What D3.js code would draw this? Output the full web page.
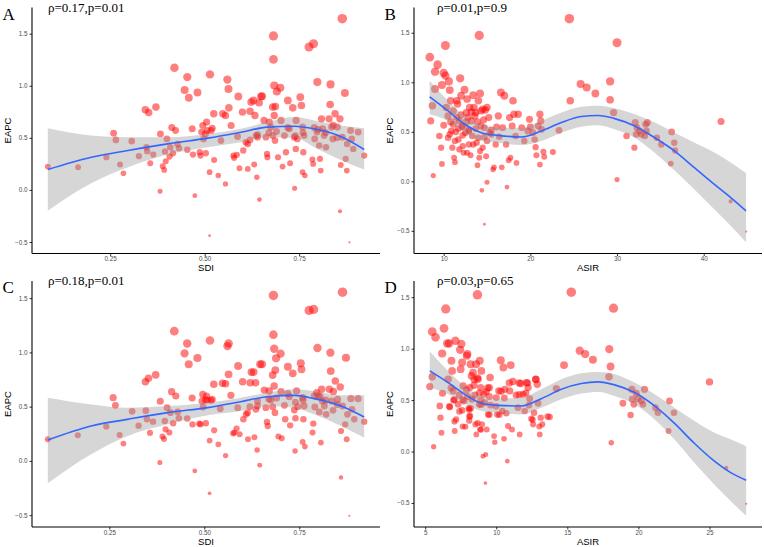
<!DOCTYPE html>
<html>
<head>
<meta charset="utf-8">
<script src="https://cdn.jsdelivr.net/npm/d3@7"></script>
<style>
  body { margin: 0; background: #fff; }
  svg { display: block; }
</style>
</head>
<body>
<div id="chart"></div>
<script>
// panel A: SDI vs EAPC
var pointsA = [[0.085,0.224],[0.165,0.218],[0.24,0.314],[0.259,0.545],[0.265,0.48],[0.276,0.244],[0.285,0.16],[0.307,0.468],[0.326,0.324],[0.343,0.77],[0.352,0.744],[0.346,0.41],[0.348,0.372],[0.356,0.256],[0.364,0.34],[0.371,0.795],[0.383,0.538],[0.382,-0.013],[0.389,0.228],[0.393,0.192],[0.395,0.369],[0.397,0.276],[0.40,0.49],[0.407,0.32],[0.409,0.41],[0.413,0.60],[0.416,0.352],[0.42,1.173],[0.423,0.57],[0.428,0.44],[0.432,0.40],[0.447,0.96],[0.454,1.083],[0.458,0.885],[0.454,0.385],[0.467,0.587],[0.469,0.34],[0.474,-0.055],[0.481,0.936],[0.487,0.362],[0.489,0.33],[0.492,0.555],[0.495,0.619],[0.497,0.49],[0.502,0.538],[0.505,0.65],[0.503,0.352],[0.507,0.57],[0.513,-0.439],[0.514,1.109],[0.513,0.17],[0.517,0.57],[0.52,0.593],[0.524,0.731],[0.525,0.288],[0.536,0.138],[0.543,0.474],[0.548,0.731],[0.555,0.058],[0.555,0.715],[0.56,1.06],[0.563,0.968],[0.564,0.788],[0.57,0.619],[0.576,0.33],[0.578,0.308],[0.589,0.897],[0.587,0.513],[0.585,0.337],[0.592,0.208],[0.6,0.747],[0.602,0.378],[0.609,0.458],[0.614,0.442],[0.614,0.202],[0.62,0.756],[0.623,0.843],[0.629,0.859],[0.631,0.244],[0.633,0.715],[0.636,0.522],[0.638,0.122],[0.64,0.506],[0.644,0.837],[0.645,-0.093],[0.649,0.897],[0.652,0.9],[0.657,0.667],[0.662,0.506],[0.665,0.346],[0.666,0.314],[0.671,0.651],[0.675,0.603],[0.68,0.522],[0.682,1.478],[0.682,1.253],[0.684,1.003],[0.684,0.715],[0.68,0.795],[0.687,0.80],[0.686,0.474],[0.691,0.946],[0.694,0.314],[0.7,0.981],[0.702,0.667],[0.706,0.224],[0.711,0.522],[0.715,0.362],[0.72,0.859],[0.724,0.587],[0.726,0.256],[0.733,0.788],[0.737,0.506],[0.738,0.016],[0.741,0.394],[0.742,0.667],[0.745,0.49],[0.753,0.891],[0.756,0.811],[0.759,0.603],[0.761,0.362],[0.759,0.17],[0.765,0.138],[0.763,0.522],[0.776,1.372],[0.788,1.404],[0.785,0.292],[0.787,0.25],[0.791,0.49],[0.797,0.555],[0.798,1.035],[0.803,0.426],[0.805,0.298],[0.807,0.186],[0.809,0.683],[0.812,0.587],[0.816,0.522],[0.821,0.41],[0.829,0.683],[0.832,0.82],[0.833,1.013],[0.836,0.603],[0.839,0.49],[0.845,0.731],[0.851,0.603],[0.858,0.683],[0.858,-0.205],[0.86,0.24],[0.864,1.644],[0.864,0.506],[0.871,0.93],[0.873,0.298],[0.876,0.186],[0.877,0.442],[0.883,-0.503],[0.886,0.57],[0.889,0.49],[0.893,0.394],[0.906,0.555],[0.922,0.33],
  [0.64,0.53],[0.67,0.55],[0.72,0.6],[0.74,0.52],[0.79,0.6],[0.82,0.55],[0.85,0.5],[0.84,0.62],[0.80,0.58],[0.69,0.56],[0.62,0.48],[0.76,0.55]];
var fitXA = [0.085,0.2,0.297,0.402,0.508,0.596,0.666,0.737,0.79,0.86,0.922];
var fitA  = [0.196,0.314,0.378,0.442,0.497,0.554,0.603,0.612,0.587,0.513,0.388];
var hiA   = [0.593,0.522,0.506,0.506,0.538,0.587,0.651,0.699,0.667,0.619,0.593];
var loA   = [-0.199,0.064,0.218,0.34,0.41,0.458,0.506,0.5,0.41,0.288,0.196];

// panel B: ASIR vs EAPC
var pointsB = [[8.4,1.253],[8.5,0.61],[8.7,0.762],[8.8,0.058],[9.0,1.107],[9.3,1.178],[9.0,0.931],[9.5,0.457],[9.7,0.339],[9.8,0.176],[9.8,0.972],[10.0,0.566],[10.2,1.371],[10.0,1.094],[10.2,1.067],[10.3,0.745],[10.5,0.66],[10.6,1.009],[10.7,0.921],[10.8,0.813],[10.7,0.474],[11.0,0.339],[11.1,0.576],[11.3,0.406],[11.3,0.193],[11.5,0.643],[11.7,0.532],[11.8,0.322],[11.9,1.04],[12.0,0.864],[12.0,0.67],[12.2,0.464],[12.3,0.288],[12.4,0.924],[12.5,0.491],[12.7,0.83],[12.8,0.643],[12.9,0.372],[13.0,0.745],[13.1,0.264],[13.3,0.457],[13.4,0.87],[13.5,0.745],[13.6,0.66],[13.7,0.532],[13.8,0.389],[13.9,0.163],[14.0,0.813],[14.1,0.237],[14.1,1.473],[14.2,0.887],[14.3,0.711],[14.3,0.559],[14.4,-0.091],[14.5,0.339],[14.7,-0.433],[14.7,0.447],[14.9,0.254],[15.0,-0.01],[15.0,0.745],[15.2,0.643],[15.3,0.491],[15.7,0.119],[15.8,0.142],[16.0,0.372],[16.1,0.549],[16.3,0.66],[16.6,0.897],[16.7,0.142],[16.8,0.542],[17.0,0.864],[17.2,0.372],[17.3,-0.058],[17.5,0.213],[17.6,0.643],[17.7,0.237],[17.9,0.559],[18.0,0.813],[18.1,0.677],[18.3,0.457],[18.4,0.186],[18.6,0.677],[19.0,0.542],[19.3,0.406],[19.7,0.508],[19.9,0.626],[20.0,0.549],[20.3,0.491],[20.5,0.423],[20.6,0.345],[20.7,0.264],[20.9,0.559],[21.1,0.677],[21.1,0.169],[21.2,0.61],[21.3,0.525],[21.5,0.298],[21.6,0.247],[22.6,0.295],[23.3,0.515],[24.5,1.642],[24.6,0.813],[25.8,0.982],[26.5,0.948],[27.5,0.887],[29.2,1.009],[29.2,0.823],[29.6,0.694],[30.0,0.017],[30.0,1.399],[31.1,0.457],[32.0,0.339],[32.1,0.593],[32.2,0.474],[32.3,0.542],[32.6,0.508],[32.8,0.474],[33.2,0.457],[33.3,0.576],[33.4,0.508],[33.5,0.593],[34.6,0.44],[35.1,0.372],[36.2,0.179],[36.3,0.498],[36.6,0.389],[36.7,0.312],[42.0,0.603],[43.1,-0.203],[44.9,-0.508],
  [10.8,0.6],[11.4,0.5],[12.1,0.55],[12.6,0.6],[13.2,0.7],[13.9,0.6],[14.6,0.62],[15.5,0.52],[11.6,0.78],[12.9,0.52],[14.8,0.72],[16.4,0.45],
  [11.1,0.711],[11.5,0.813],[11.8,0.61],[12.2,0.559],[12.6,0.694],[12.9,0.508],[13.2,0.61],[13.4,0.372],[13.7,0.694],[14.0,0.44],[14.2,0.305],[14.5,0.728],[14.7,0.542],[15.0,0.406],[15.5,0.474],[11.7,0.423],[12.2,0.356],[12.7,0.288],[10.9,0.508],[10.5,0.44],[11.2,0.237]];
var fitXB = [8.38,10.5,12.42,14.35,16.27,18.96,21.27,23.58,25.88,27.81,29.73,32.04,34.35,36.65,38.96,41.27,43.19,44.88];
var fitB  = [0.853,0.711,0.576,0.491,0.464,0.447,0.508,0.593,0.654,0.664,0.633,0.559,0.44,0.305,0.135,-0.034,-0.169,-0.298];
var hiB   = [1.016,0.813,0.66,0.576,0.542,0.542,0.61,0.694,0.752,0.762,0.738,0.677,0.593,0.491,0.389,0.288,0.186,0.085];
var loB   = [0.677,0.61,0.491,0.406,0.389,0.366,0.406,0.491,0.552,0.566,0.525,0.44,0.288,0.108,-0.085,-0.288,-0.457,-0.616];

// panel C: SDI vs EAPC
var pointsC = [[0.088,0.2],[0.167,0.236],[0.242,0.316],[0.26,0.583],[0.266,0.512],[0.277,0.239],[0.287,0.16],[0.31,0.457],[0.327,0.325],[0.345,0.73],[0.353,0.761],[0.346,0.463],[0.349,0.383],[0.357,0.258],[0.365,0.362],[0.372,0.794],[0.384,0.549],[0.383,-0.015],[0.39,0.224],[0.394,0.202],[0.396,0.368],[0.398,0.291],[0.402,0.49],[0.408,0.261],[0.411,0.445],[0.414,0.638],[0.418,0.347],[0.421,1.196],[0.425,0.598],[0.43,0.451],[0.433,0.393],[0.448,0.991],[0.455,1.083],[0.459,0.89],[0.455,0.39],[0.468,0.58],[0.469,0.337],[0.475,-0.092],[0.482,0.948],[0.487,0.344],[0.49,0.337],[0.494,0.552],[0.496,0.613],[0.497,0.497],[0.503,0.561],[0.506,0.598],[0.504,0.347],[0.508,0.561],[0.514,-0.298],[0.515,1.11],[0.514,0.187],[0.518,0.558],[0.521,0.567],[0.525,0.706],[0.526,0.282],[0.537,0.153],[0.542,0.481],[0.548,0.715],[0.556,0.049],[0.556,0.712],[0.561,1.058],[0.564,1.083],[0.564,0.798],[0.57,0.604],[0.576,0.252],[0.579,0.261],[0.589,0.874],[0.588,0.491],[0.585,0.298],[0.593,0.245],[0.601,0.73],[0.603,0.383],[0.61,0.429],[0.614,0.445],[0.615,0.2],[0.621,0.721],[0.624,0.819],[0.63,0.819],[0.632,0.218],[0.635,0.721],[0.636,0.475],[0.639,0.101],[0.64,0.506],[0.647,0.89],[0.646,-0.04],[0.652,0.89],[0.658,0.653],[0.662,0.491],[0.665,0.359],[0.667,0.322],[0.671,0.644],[0.675,0.561],[0.68,0.5],[0.682,1.525],[0.682,1.163],[0.684,1.034],[0.684,0.69],[0.68,0.791],[0.687,0.837],[0.686,0.445],[0.689,0.945],[0.695,0.224],[0.701,0.988],[0.702,0.638],[0.704,0.209],[0.711,0.512],[0.713,0.383],[0.72,0.868],[0.724,0.592],[0.726,0.328],[0.733,0.807],[0.737,0.469],[0.739,0.092],[0.74,0.393],[0.743,0.644],[0.746,0.5],[0.754,0.899],[0.756,0.844],[0.759,0.583],[0.761,0.383],[0.759,0.175],[0.765,0.132],[0.763,0.506],[0.776,1.387],[0.788,1.396],[0.785,0.261],[0.787,0.344],[0.791,0.497],[0.796,0.629],[0.798,1.04],[0.803,0.451],[0.805,0.592],[0.807,0.169],[0.809,0.66],[0.811,0.552],[0.816,0.506],[0.821,0.429],[0.829,0.66],[0.833,0.828],[0.832,0.997],[0.836,0.552],[0.839,0.466],[0.845,0.736],[0.851,0.567],[0.858,0.681],[0.86,-0.153],[0.86,0.276],[0.864,1.555],[0.864,0.506],[0.873,0.951],[0.871,0.337],[0.875,0.2],[0.877,0.429],[0.882,-0.506],[0.886,0.574],[0.889,0.475],[0.895,0.383],[0.905,0.574],[0.921,0.362],
  [0.64,0.55],[0.67,0.57],[0.72,0.62],[0.74,0.54],[0.79,0.6],[0.82,0.56],[0.85,0.52],[0.84,0.64],[0.80,0.6],[0.69,0.58],[0.62,0.5],[0.76,0.56]];
var fitXC = [0.088,0.202,0.298,0.404,0.509,0.596,0.667,0.737,0.789,0.86,0.921];
var fitC  = [0.193,0.322,0.383,0.445,0.491,0.546,0.592,0.604,0.574,0.506,0.405];
var hiC   = [0.583,0.521,0.491,0.506,0.537,0.583,0.629,0.66,0.644,0.604,0.604];
var loC   = [-0.206,0.061,0.23,0.337,0.42,0.46,0.506,0.491,0.429,0.322,0.215];

// panel D: ASIR vs EAPC
var pointsD = [[5.33,0.631],[5.5,0.726],[5.5,1.165],[5.6,0.046],[5.73,1.11],[6.03,0.443],[6.08,0.329],[6.15,0.182],[6.2,0.953],[6.22,0.566],[6.33,1.198],[6.45,1.386],[6.55,1.051],[6.62,0.703],[6.69,1.051],[6.73,0.433],[6.85,0.882],[6.9,0.784],[6.97,0.589],[7.08,0.199],[7.13,1.077],[7.18,0.312],[7.32,0.459],[7.46,0.989],[7.5,0.8],[7.55,1.045],[7.6,0.866],[7.67,0.638],[7.74,0.491],[7.83,0.241],[7.93,0.931],[7.97,0.947],[8.07,0.42],[8.14,0.622],[8.16,0.345],[8.2,0.849],[8.26,0.735],[8.3,0.508],[8.37,0.768],[8.44,0.644],[8.54,0.264],[8.58,0.849],[8.6,0.166],[8.68,1.523],[8.72,0.703],[8.8,0.459],[8.84,0.882],[8.86,0.215],[8.91,0.622],[8.96,0.784],[9.0,0.264],[9.07,-0.046],[9.12,0.556],[9.19,0.475],[9.24,-0.306],[9.26,-0.029],[9.33,0.215],[9.43,0.361],[9.52,0.622],[9.57,0.719],[9.85,0.15],[9.9,0.091],[10.0,0.524],[10.08,0.361],[10.18,0.589],[10.32,0.888],[10.43,0.394],[10.5,0.817],[10.55,0.124],[10.6,0.605],[10.71,0.371],[10.78,-0.094],[10.83,0.247],[10.95,0.589],[11.02,0.84],[11.11,0.215],[11.18,0.68],[11.53,0.426],[11.65,0.166],[11.72,0.661],[11.89,0.556],[12.0,0.394],[12.12,0.67],[12.24,0.622],[12.35,0.514],[12.47,0.319],[12.59,0.264],[12.66,0.377],[12.78,0.703],[12.89,0.654],[12.94,0.469],[13.06,0.166],[13.13,0.329],[13.24,0.264],[13.76,0.335],[14.23,0.612],[14.77,0.84],[15.28,1.549],[15.87,0.98],[16.26,0.947],[16.8,0.892],[17.93,0.726],[17.95,0.996],[18.04,0.827],[18.09,0.085],[18.25,1.393],[18.91,0.469],[19.45,0.355],[19.54,0.605],[19.57,0.508],[19.68,0.459],[19.85,0.566],[19.96,0.514],[20.2,0.491],[20.32,0.459],[20.43,0.605],[21.2,0.426],[21.37,0.377],[22.12,0.199],[22.19,0.491],[22.5,0.377],[25.0,0.677],[26.17,-0.159],[27.58,-0.508],
  [7.0,0.5],[7.4,0.55],[7.9,0.6],[8.1,0.3],[8.5,0.55],[8.9,0.5],[9.3,0.58],[7.6,0.4],[8.2,0.42],[9.6,0.45],[11.4,0.55],[12.3,0.45],
  [8.11,0.406],[8.11,0.34],[7.99,0.536],[8.46,0.70],[8.69,0.715],[8.81,0.569],[9.4,0.618],[9.52,0.536],[10.34,0.585],[10.92,0.667],[11.62,0.667],[12.09,0.569],[12.79,0.699],[12.2,0.667],[7.64,0.504],[7.06,0.504],[6.83,0.618],[6.71,0.439],[7.41,0.39],[8.93,0.455],[9.99,0.439],[10.57,0.52],[8.93,0.212],[8.69,0.277],[7.64,0.244],[7.06,0.293],[9.52,0.358],[10.22,0.358],[12.56,0.309],[13.03,0.244],[13.61,0.341],[11.62,0.553]];
var fitXD = [5.33,6.62,7.79,8.96,10.13,11.77,13.17,14.58,15.98,17.15,18.33,19.73,21.14,22.54,23.95,25.35,26.52,27.58];
var fitD  = [0.784,0.67,0.556,0.469,0.449,0.443,0.514,0.605,0.661,0.677,0.648,0.573,0.443,0.273,0.078,-0.094,-0.208,-0.28];
var hiD   = [0.973,0.784,0.638,0.54,0.514,0.524,0.605,0.703,0.761,0.774,0.752,0.67,0.556,0.426,0.296,0.182,0.117,0.052];
var loD   = [0.622,0.556,0.469,0.394,0.377,0.361,0.426,0.508,0.563,0.579,0.54,0.459,0.312,0.117,-0.111,-0.322,-0.485,-0.625];

var panelLetters = ["A", "B", "C", "D"];
var statLabels = ["\u03c1=0.17,p=0.01", "\u03c1=0.01,p=0.9", "\u03c1=0.18,p=0.01", "\u03c1=0.03,p=0.65"];
var xTitles = ["SDI", "ASIR", "SDI", "ASIR"];
var xTickSets = [[0.25, 0.5, 0.75], [10, 20, 30, 40], [0.25, 0.5, 0.75], [5, 10, 15, 20, 25]];
var yTicks = [-0.5, 0, 0.5, 1, 1.5];

var W = 764, H = 547;
var svg = d3.select("#chart").append("svg")
  .attr("width", W)
  .attr("height", H);

var panels = [
  {pts: pointsA, fx: fitXA, fit: fitA, hi: hiA, lo: loA, ox: 0,   oy: 0,     fmt: d3.format(".2f")},
  {pts: pointsB, fx: fitXB, fit: fitB, hi: hiB, lo: loB, ox: 382, oy: 0,     fmt: d3.format("d")},
  {pts: pointsC, fx: fitXC, fit: fitC, hi: hiC, lo: loC, ox: 0,   oy: 273.5, fmt: d3.format(".2f")},
  {pts: pointsD, fx: fitXD, fit: fitD, hi: hiD, lo: loD, ox: 382, oy: 273.5, fmt: d3.format("d")}
];

// ggplot-ish 5% expansion
function expand(ext) {
  var pad = (ext[1] - ext[0]) * 0.05;
  return [ext[0] - pad, ext[1] + pad];
}

panels.forEach(function (p, i) {
  var left = p.ox + 32, right = p.ox + 380, top = p.oy + 7.5, bottom = p.oy + 253.5;

  var xs = p.pts.map(function (d) { return d[0]; });
  var ys = p.pts.map(function (d) { return d[1]; }).concat(p.lo, p.hi);

  var x = d3.scaleLinear().domain(expand(d3.extent(xs))).range([left, right]);
  var y = d3.scaleLinear().domain(expand(d3.extent(ys))).range([bottom, top]);

  var eExt = d3.extent(p.pts, function (d) { return d[1]; });
  // point area grows linearly with EAPC
  var area = d3.scaleLinear().domain(eExt).range([1.3, 23]);

  var g = svg.append("g");

  // points
  g.append("g").selectAll("circle")
    .data(p.pts)
    .enter().append("circle")
    .attr("cx", function (d) { return x(d[0]); })
    .attr("cy", function (d) { return y(d[1]); })
    .attr("r", function (d) { return Math.sqrt(area(d[1])); })
    .attr("fill", "#ff0000")
    .attr("fill-opacity", 0.5);

  // confidence band
  var band = d3.area()
    .x(function (d, k) { return x(p.fx[k]); })
    .y0(function (d, k) { return y(p.lo[k]); })
    .y1(function (d, k) { return y(p.hi[k]); })
    .curve(d3.curveMonotoneX);
  g.append("path")
    .datum(p.fx)
    .attr("d", band)
    .attr("fill", "#999999")
    .attr("fill-opacity", 0.4);

  var line = d3.line()
    .x(function (d, k) { return x(p.fx[k]); })
    .y(function (d, k) { return y(p.fit[k]); })
    .curve(d3.curveMonotoneX);
  g.append("path")
    .datum(p.fx)
    .attr("d", line)
    .attr("fill", "none")
    .attr("stroke", "#3366FF")
    .attr("stroke-width", 1.6);

  // axes
  var xAxis = d3.axisBottom(x).tickValues(xTickSets[i]).tickFormat(p.fmt).tickSize(2.5).tickPadding(1);
  var yAxis = d3.axisLeft(y).tickValues(yTicks).tickFormat(d3.format(".1f")).tickSize(2.5).tickPadding(2);

  var gx = g.append("g").attr("transform", "translate(0," + bottom + ")").call(xAxis);
  var gy = g.append("g").attr("transform", "translate(" + left + ",0)").call(yAxis);
  [gx, gy].forEach(function (ax) {
    ax.select(".domain").remove();
    ax.selectAll(".tick line").attr("stroke", "#333");
    ax.selectAll(".tick text")
      .attr("fill", "#4d4d4d")
      .style("font-family", "Liberation Sans, Arial, sans-serif")
      .style("font-size", "6.3px");
  });
  // plain axis lines without end caps
  g.append("line").attr("x1", left).attr("x2", right).attr("y1", bottom).attr("y2", bottom)
    .attr("stroke", "#000").attr("stroke-width", 1.1);
  g.append("line").attr("x1", left).attr("x2", left).attr("y1", top).attr("y2", bottom)
    .attr("stroke", "#000").attr("stroke-width", 1.1);

  // titles
  g.append("text")
    .attr("x", (left + right) / 2)
    .attr("y", p.oy + 271)
    .attr("text-anchor", "middle")
    .style("font-family", "Liberation Sans, Arial, sans-serif")
    .style("font-size", "9.5px")
    .text(xTitles[i]);

  g.append("text")
    .attr("transform", "translate(" + (p.ox + 10.5) + "," + ((top + bottom) / 2) + ") rotate(-90)")
    .attr("text-anchor", "middle")
    .style("font-family", "Liberation Sans, Arial, sans-serif")
    .style("font-size", "9.5px")
    .text("EAPC");

  g.append("text")
    .attr("x", p.ox + 2.5)
    .attr("y", p.oy + 19.5)
    .style("font-family", "Liberation Serif, Times New Roman, serif")
    .style("font-size", "17px")
    .text(panelLetters[i]);

  g.append("text")
    .attr("x", p.ox + (i % 2 === 0 ? 48 : 55))
    .attr("y", p.oy + 11.7)
    .style("font-family", "Liberation Serif, Times New Roman, serif")
    .style("font-size", "13px")
    .text(statLabels[i]);
});
</script>
</body>
</html>
